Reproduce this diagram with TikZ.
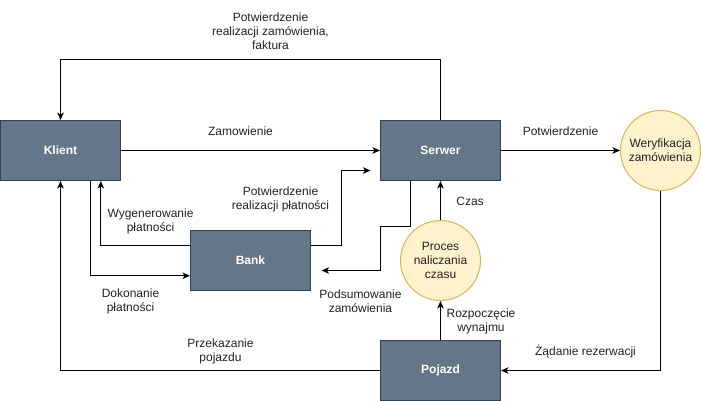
\documentclass[tikz,border=0pt]{standalone}
\usepackage{fontspec}
\setmainfont{Liberation Sans}
\usetikzlibrary{arrows.meta,calc}
\definecolor{boxfill}{HTML}{647687}
\definecolor{boxline}{HTML}{314354}
\definecolor{cfill}{HTML}{FFF2CC}
\definecolor{cline}{HTML}{D6B656}
\definecolor{txt}{HTML}{222222}
\begin{document}
\begin{tikzpicture}[x=1pt,y=-1pt,
 every node/.style={font=\fontsize{12}{14}\selectfont, text=txt},
 box/.style={draw=boxline, fill=boxfill, line width=1pt, minimum width=120pt, minimum height=60pt, inner sep=0pt, text=white, font=\fontsize{12}{14}\selectfont\bfseries},
 proc/.style={circle, draw=cline, fill=cfill, line width=1pt, minimum size=80pt, inner sep=0pt, align=center},
 lbl/.style={align=center, inner sep=0pt},
 arr/.style={-{Stealth[length=7.5pt,width=6.5pt,inset=2pt]}, line width=1pt, line join=miter}]
\useasboundingbox (0,0) rectangle (701,401);
\begin{scope}[shift={(0.5,0.5)}]
\node[box] (klient) at (60,150) {Klient};
\node[box] (serwer) at (440,150) {Serwer};
\node[box] (bank) at (250,260) {Bank};
\node[box] (pojazd) at (440,370) {Pojazd};
\node[proc] (weryf) at (660,150) {Weryfikacja\\zamówienia};
\node[proc] (proces) at (440,260) {Proces\\naliczania\\czasu};

\coordinate (c1) at (370,170);
\coordinate (c2) at (321,270);

% Klient -> Serwer
\draw[arr] (klient.east) -- (serwer.west);
% Serwer -> Klient (top)
\draw[arr] (serwer.north) -- ++(0,-60) -| (klient.north);
% Serwer -> Weryfikacja
\draw[arr] (serwer.east) -- (weryf.west);
% Bank -> Serwer
\draw[arr] ($(bank.north east)!0.25!(bank.south east)$) -- ++(30,0) |- (c1);
% Serwer -> Bank
\draw[arr] ($(serwer.south west)!0.25!(serwer.south east)$) -- ++(0,45) -- ++(-30,0) |- (c2);
% Klient -> Bank
\draw[arr] ($(klient.south west)!0.75!(klient.south east)$) |- ($(bank.north west)!0.75!(bank.south west)$);
% Bank -> Klient
\draw[arr] ($(bank.north west)!0.25!(bank.south west)$) -| ($(klient.south west)!0.8333!(klient.south east)$);
% Pojazd -> Klient
\draw[arr] (pojazd.west) -| (klient.south);
% Weryfikacja -> Pojazd
\draw[arr] (weryf.south) |- (pojazd.east);
% Pojazd -> Proces
\draw[arr] (pojazd.north) -- (proces.south);
% Proces -> Serwer
\draw[arr] (proces.north) -- (serwer.south);

\node[lbl] (l1) at (270,31) {Potwierdzenie\\realizacji zamówienia,\\faktura};
\node[lbl] (l2) at (240,131) {Zamowienie};
\node[lbl] (l3) at (560,131) {Potwierdzenie};
\node[lbl] (l4) at (280,198.5) {Potwierdzenie\\realizacji płatności};
\node[lbl] (l5) at (150,220.7) {Wygenerowanie\\płatności};
\node[lbl] (l6) at (130,301) {Dokonanie\\płatności};
\node[lbl] (l7) at (360,301) {Podsumowanie\\zamówienia};
\node[lbl] (l8) at (469.5,200.7) {Czas};
\node[lbl] (l9) at (480.5,320.5) {Rozpoczęcie\\wynajmu};
\node[lbl] (l10) at (220,351) {Przekazanie\\pojazdu};
\node[lbl] (l11) at (585,351) {Żądanie rezerwacji};
\end{scope}
\end{tikzpicture}
\end{document}
